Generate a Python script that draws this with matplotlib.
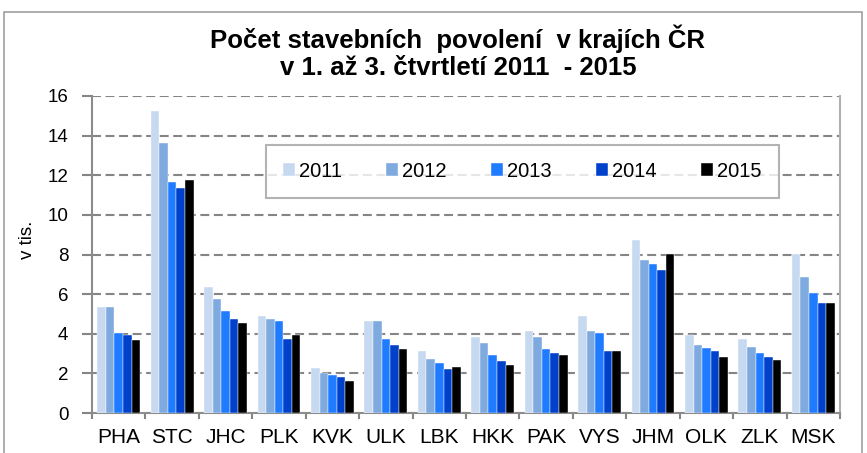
import matplotlib
matplotlib.use("Agg")
import matplotlib.pyplot as plt
import numpy as np
from matplotlib.patches import Rectangle

regions = ["PHA", "STC", "JHC", "PLK", "KVK", "ULK", "LBK", "HKK", "PAK", "VYS", "JHM", "OLK", "ZLK", "MSK"]
years = ["2011", "2012", "2013", "2014", "2015"]
v2011 = [5.33, 15.24, 6.34, 4.92, 2.25, 4.64, 3.14, 3.83, 4.13, 4.92, 8.75, 3.93, 3.75, 8.04]
v2012 = [5.33, 13.65, 5.73, 4.72, 2.03, 4.64, 2.74, 3.53, 3.83, 4.15, 7.74, 3.44, 3.34, 6.84]
v2013 = [4.05, 11.64, 5.13, 4.64, 1.93, 3.73, 2.54, 2.94, 3.24, 4.03, 7.53, 3.26, 3.04, 6.05]
v2014 = [3.95, 11.34, 4.74, 3.73, 1.83, 3.43, 2.23, 2.64, 3.02, 3.14, 7.23, 3.14, 2.85, 5.53]
v2015 = [3.66, 11.74, 4.55, 3.93, 1.63, 3.22, 2.33, 2.43, 2.94, 3.14, 8.04, 2.85, 2.65, 5.53]
series = [v2011, v2012, v2013, v2014, v2015]
colors = ["#C6D9F1", "#7EAAE0", "#1F7BFF", "#0041CC", "#000000"]

plt.rcParams['font.family'] = ['Liberation Sans', 'DejaVu Sans']

fig = plt.figure(figsize=(8.67, 4.53), dpi=100)
# outer chart frame
fig.patches.append(Rectangle((4/867, -0.01), 858/867, 1.01 - 12/453, transform=fig.transFigure,
                             fill=False, edgecolor="#A0A0A0", linewidth=1.2))

ax = fig.add_axes([92/867, 1 - 413/453, 748/867, 317/453])
x = np.arange(len(regions))
w = 0.16
for i, (vals, c, lab) in enumerate(zip(series, colors, years)):
    ax.bar(x + (i - 2) * w, vals, width=w, color=c, label=lab, edgecolor="white", linewidth=0.3, zorder=3)

ax.set_xlim(-0.5, len(regions) - 0.5)
ax.set_ylim(0, 16)
ax.set_yticks(np.arange(0, 17, 2))
ax.yaxis.grid(True, linestyle=(0, (4.3, 2.2)), color="#858585", linewidth=1.5, zorder=0)
ax.set_xticks(x)
ax.set_xticklabels(regions, fontsize=15)
ax.tick_params(axis='x', length=0, pad=11)
ax.set_xticks(np.arange(-0.5, len(regions), 1), minor=True)
ax.tick_params(axis='x', which='minor', length=4, color="#858585", width=1.5)
ax.tick_params(axis='y', labelsize=13.5, length=7, color="#858585", width=1.5, pad=10)
for s in ["left", "bottom", "right"]:
    ax.spines[s].set_color("#8C8C8C")
    ax.spines[s].set_linewidth(1.5)
ax.spines["top"].set_visible(False)
ax.spines["right"].set_color("#B0B0B0")
ax.set_ylabel("v tis.", fontsize=13.5)
ax.yaxis.set_label_coords(-0.075, 0.546)

leg = ax.legend(loc="center", bbox_to_anchor=(0.233, 0.672, 0.685, 0.18), ncol=5, fontsize=14.5,
                frameon=True, fancybox=False, edgecolor="#A0A0A0", handlelength=0.6, handleheight=0.6,
                handletextpad=0.2, columnspacing=2.2, borderpad=0.85, borderaxespad=0)
leg.get_frame().set_linewidth(1.5)
leg.set_zorder(5)

fig.text(458/867, 1 - 52/453, "Počet stavebních  povolení  v krajích ČR\nv 1. až 3. čtvrtletí 2011  - 2015",
         ha="center", va="center", fontsize=18.5, fontweight="bold", linespacing=1.15,
         family=['Liberation Sans Narrow', 'Liberation Sans', 'DejaVu Sans'])

fig.savefig("out.png", dpi=100)
